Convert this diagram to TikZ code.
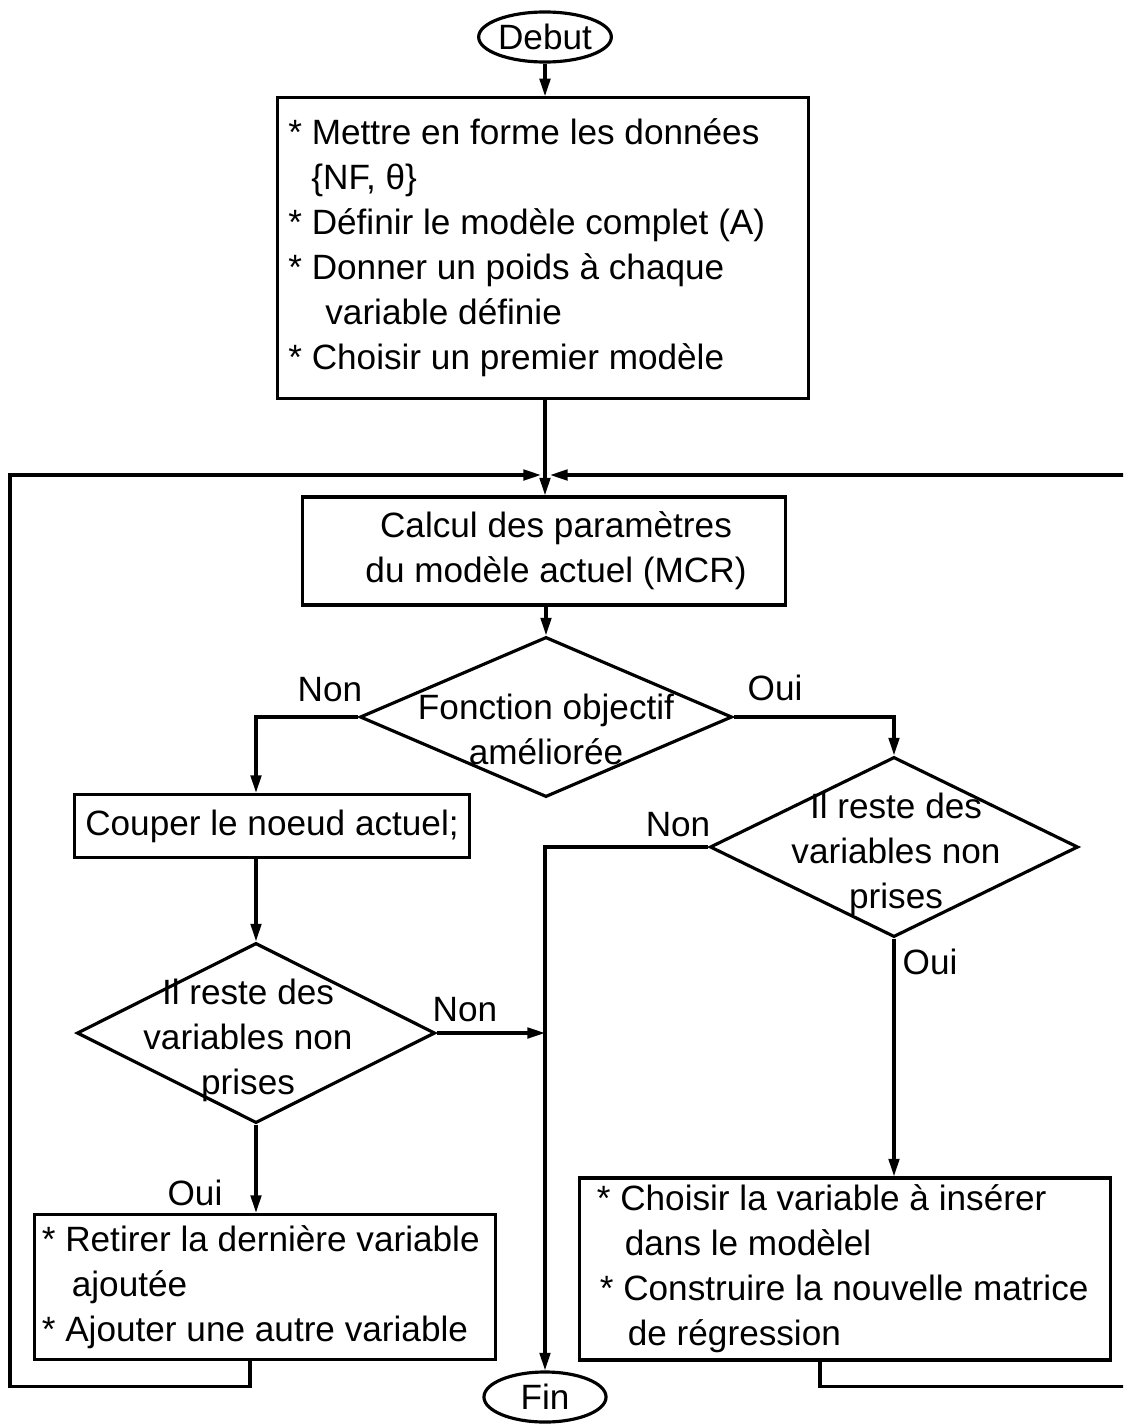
\documentclass[tikz,border=0pt]{standalone}
\usepackage{fontspec}
\setmainfont{Liberation Sans}
\usetikzlibrary{positioning,arrows.meta,shapes.geometric,calc}

\begin{document}
\begin{tikzpicture}[
  x=0.01cm, y=-0.01cm,
  font=\fontsize{10}{12.8}\selectfont,
  box/.style={rectangle, draw, line width=0.9pt, inner sep=0pt},
  decision/.style={diamond, draw, line width=0.9pt, inner sep=0pt},
  terminal/.style={ellipse, draw, line width=0.9pt, inner sep=0pt,
    minimum width=1.22cm, minimum height=0.5cm},
  arrow/.style={-{Triangle[length=5pt,width=3pt]}, line width=0.9pt},
  answer/.style={inner sep=0pt}
]
\clip (0,0) rectangle (1123,1424);

% === Start and initial block ===
\node[terminal, minimum width=1.25cm] (debut) at (545,37) {Debut};
\node[box, minimum width=5.31cm, minimum height=3cm, text width=5.09cm,
  inner xsep=0.11cm, align=flush left] (init) at (543,248)
  {* Mettre en forme les données\\\hspace*{0.23cm}\{NF, θ\}\\
   {}* Définir le modèle complet (A)\\{}* Donner un poids à chaque\\
   \hspace*{0.37cm}variable définie\\{}* Choisir un premier modèle};

% === Parameter estimation ===
\node[box, minimum width=4.82cm, minimum height=1.08cm, align=center] (calc) at (544,551)
  {\hspace*{0.24cm}Calcul des paramètres\\\hspace*{0.24cm}du modèle actuel (MCR)};

% === Decisions ===
\node[decision, minimum width=3.72cm, minimum height=1.6cm] (amel) at (546,717) {};
\node[align=center, inner sep=0pt] (amelt) at (546,729) {Fonction objectif\\améliorée};

\node[decision, minimum width=3.68cm, minimum height=1.8cm] (resteD) at (894,847) {};
\node[align=center, inner sep=0pt] (resteDt) at (896,854) {Il reste des\\variables non\\prises};

\node[box, minimum width=3.95cm, minimum height=0.63cm] (couper) at (272,826)
  {Couper le noeud actuel;};

\node[decision, minimum width=3.58cm, minimum height=1.8cm] (resteG) at (256,1033) {};
\node[align=center, inner sep=0pt] (resteGt) at (248,1040) {Il reste des\\variables non\\prises};

% === Update blocks ===
\node[box, minimum width=4.60cm, minimum height=1.45cm, text width=4.50cm,
  inner xsep=0.05cm, align=flush left] (retirer) at (265,1287)
  {\hspace*{0.02cm}* Retirer la dernière variable\\\hspace*{0.32cm}ajoutée\\
   \hspace*{0.02cm}* Ajouter une autre variable};
\node[box, minimum width=5.30cm, minimum height=1.82cm, text width=5.10cm,
  inner xsep=0.10cm, align=flush left] (choisir) at (845,1269)
  {\hspace*{0.07cm}* Choisir la variable à insérer\\\hspace*{0.35cm}dans le modèlel\\
   \hspace*{0.10cm}* Construire la nouvelle matrice\\\hspace*{0.38cm}de régression};

\node[terminal] (fin) at (545,1397) {Fin};

% === Main flow ===
\draw[arrow] (debut) -- (debut |- init.north);
\draw[arrow] (init.south -| debut) -- (debut |- calc.north);
\draw[arrow] (amel.north |- calc.south) -- (amel.north);
\draw[arrow] (amel.west) -| (couper.north -| resteG.north);
\draw[arrow] (amel.east) -| (resteD.north);
\draw[arrow] (couper.south -| resteG.north) -- (resteG.north);
\draw[arrow] (resteG.south) -- (retirer.north -| resteG.south);
\draw[arrow] (resteD.south) -- (choisir.north -| resteD.south);
\draw[arrow] (resteD.west) -| (fin.north);
\draw[arrow] (resteG.east) -- (resteG.east -| fin.north);

% === Loops back to the estimation ===
\coordinate (merge) at (545,475);
\draw[arrow] ([xshift=-0.15cm]retirer.south) -- ++(0,25) -| (10,475)
  -- ([xshift=-0.04cm]merge);
\draw[arrow] ([xshift=-0.25cm]choisir.south) -- ++(0,25) -| (1130,475)
  -- ([xshift=0.05cm]merge);

% === Answers ===
\node[answer] (non1) at (330,690) {Non};
\node[answer] (oui1) at (775,688) {Oui};
\node[answer] (non2) at (678,825) {Non};
\node[answer] (oui2) at (930,962) {Oui};
\node[answer] (non3) at (465,1010) {Non};
\node[answer] (oui3) at (195,1193) {Oui};

\end{tikzpicture}
\end{document}
